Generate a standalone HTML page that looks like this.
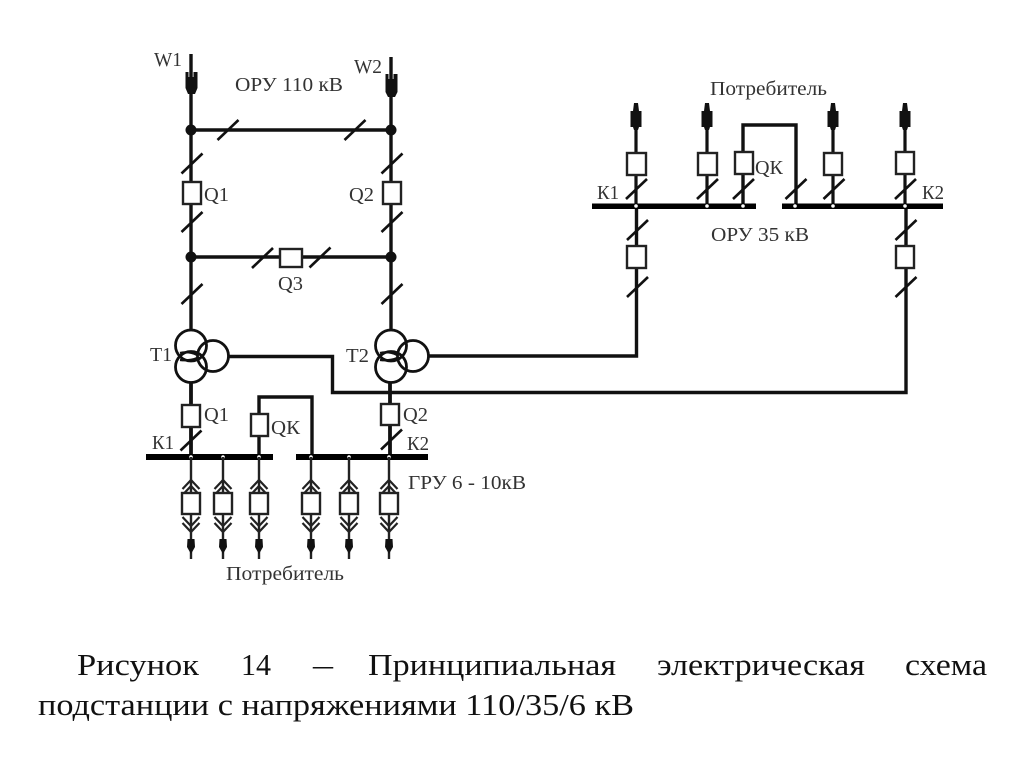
<!DOCTYPE html>
<html lang="ru">
<head>
<meta charset="utf-8">
<title>Рисунок 14</title>
<style>
html,body{margin:0;padding:0;background:#fff;width:1024px;height:767px;overflow:hidden}
svg{display:block;filter:blur(0.35px)}
text{font-family:"Liberation Serif","Noto Serif CJK SC",serif;fill:#222}
.l{font-size:20px;fill:#333}
.c{font-size:31px;fill:#111}
</style>
</head>
<body>
<svg width="1024" height="767" viewBox="0 0 1024 767" xmlns="http://www.w3.org/2000/svg">
<defs>
<g id="t"><path d="M-10.500 10 L10.500 -10" fill="none" stroke="#111" stroke-width="2.600"/></g>
<g id="fd">
<path d="M0 0V102" stroke="#222" stroke-width="2.400" fill="none"/>
<path d="M-8.500 32L0 23L8.500 32M-8.500 38L0 29L8.500 38M-8.500 60L0 69L8.500 60M-8.500 66L0 75L8.500 66" stroke="#222" stroke-width="2.200" fill="none"/>
<path d="M-3.500 82H3.500L4 90L0 97L-4 90Z" fill="#111"/>
<rect x="-9" y="36" width="18" height="21" fill="#fff" stroke="#222" stroke-width="2.400"/>
</g>
<g id="up">
<path d="M0 0V-100" stroke="#111" stroke-width="3.200" fill="none"/>
<path d="M-2 -103H2L3 -95H5.500V-79H3L2 -76H-2L-3 -79H-5.500V-95H-3Z" fill="#111"/>
</g>
</defs>

<g fill="none" stroke="#111" stroke-width="3.400">
<path d="M191 54V330M391 57V330M191 130H391M191 257H391"/>
<path d="M191 383V405M191 427V457M390 383V404M390 425V457" stroke-width="3.800"/>
<path d="M229 356.500H332.500V392.500H906V206M429 356H636.500V206"/>
<path d="M259 457V397H312V457"/>
<path d="M743 206V125H796V206"/>
</g>

<!-- W arrows -->
<path d="M185.500 72H188.500V77H193.500V72H197.500V88L195 94H188L185.500 88Z" fill="#111"/>
<path d="M385.500 74H388.500V79H393.500V74H397.500V92L395 97H388L385.500 92Z" fill="#111"/>

<!-- nodes -->
<g fill="#111">
<circle cx="191" cy="130" r="5.500"/><circle cx="391" cy="130" r="5.500"/>
<circle cx="191" cy="257" r="5.500"/><circle cx="391" cy="257" r="5.500"/>
</g>

<!-- ticks -->
<use href="#t" x="228" y="130"/><use href="#t" x="355" y="130"/>
<use href="#t" x="192" y="163.500"/><use href="#t" x="392" y="163.500"/>
<use href="#t" x="192" y="222"/><use href="#t" x="392" y="222"/>
<use href="#t" x="192" y="294"/><use href="#t" x="392" y="294"/>
<use href="#t" x="262.500" y="258"/><use href="#t" x="320" y="257.500"/>
<use href="#t" x="191" y="440.500"/><use href="#t" x="391.500" y="439.500"/>
<use href="#t" x="636.500" y="189"/><use href="#t" x="707.500" y="189"/>
<use href="#t" x="743.500" y="189"/><use href="#t" x="796" y="189"/>
<use href="#t" x="834" y="189"/><use href="#t" x="905.500" y="189"/>
<use href="#t" x="637.500" y="230"/><use href="#t" x="906" y="230"/>
<use href="#t" x="637.500" y="287"/><use href="#t" x="906" y="287"/>

<!-- upper right feeders -->
<use href="#up" x="707" y="206"/><use href="#up" x="833" y="206"/>
<use href="#up" x="636" y="206"/><use href="#up" x="905" y="206"/>

<!-- boxes -->
<g fill="#fff" stroke="#222" stroke-width="2.400">
<rect x="183" y="182" width="18" height="22"/>
<rect x="383" y="182" width="18" height="22"/>
<rect x="280" y="249" width="22" height="18"/>
<rect x="182" y="405" width="18" height="22"/>
<rect x="251" y="414" width="17" height="22"/>
<rect x="381" y="404" width="18" height="21"/>
<rect x="627" y="153" width="19" height="22"/>
<rect x="698" y="153" width="19" height="22"/>
<rect x="735" y="152" width="18" height="22"/>
<rect x="824" y="153" width="18" height="22"/>
<rect x="896" y="152" width="18" height="22"/>
<rect x="627" y="246" width="19" height="22"/>
<rect x="896" y="246" width="18" height="22"/>
</g>

<!-- transformers -->
<g fill="none" stroke="#111" stroke-width="2.800">
<circle cx="191" cy="345.500" r="15.500"/><circle cx="191" cy="367" r="15.500"/><circle cx="213" cy="356" r="15.500"/>
<circle cx="391" cy="345.500" r="15.500"/><circle cx="391" cy="367" r="15.500"/><circle cx="413" cy="356" r="15.500"/>
<path d="M180 353Q189 351 197 355M180 360Q190 361 197 358" stroke-width="2.200"/>
<path d="M380 353Q389 351 397 355M380 360Q390 361 397 358" stroke-width="2.200"/>
</g>

<!-- buses -->
<g fill="#000">
<rect x="146" y="454" width="127" height="6"/>
<rect x="296" y="454" width="132" height="6"/>
<rect x="592" y="203.500" width="164" height="5.500"/>
<rect x="782" y="203.500" width="161" height="5.500"/>
</g>
<g fill="#fff">
<circle cx="191" cy="457" r="1.800"/><circle cx="223" cy="457" r="1.800"/><circle cx="259" cy="457" r="1.800"/>
<circle cx="311" cy="457" r="1.800"/><circle cx="349" cy="457" r="1.800"/><circle cx="389" cy="457" r="1.800"/>
<circle cx="636" cy="206" r="1.800"/><circle cx="707" cy="206" r="1.800"/><circle cx="743" cy="206" r="1.800"/>
<circle cx="795" cy="206" r="1.800"/><circle cx="833" cy="206" r="1.800"/><circle cx="905" cy="206" r="1.800"/>
</g>

<!-- lower feeders -->
<use href="#fd" x="191" y="457"/><use href="#fd" x="223" y="457"/><use href="#fd" x="259" y="457"/>
<use href="#fd" x="311" y="457"/><use href="#fd" x="349" y="457"/><use href="#fd" x="389" y="457"/>

<!-- labels -->
<text class="l" x="154" y="66" textLength="28" lengthAdjust="spacingAndGlyphs">W1</text>
<text class="l" x="354" y="73" textLength="28" lengthAdjust="spacingAndGlyphs">W2</text>
<text class="l" x="235" y="91" textLength="108" lengthAdjust="spacingAndGlyphs">ОРУ 110 кВ</text>
<text class="l" x="204" y="201" textLength="25" lengthAdjust="spacingAndGlyphs">Q1</text>
<text class="l" x="349" y="201" textLength="25" lengthAdjust="spacingAndGlyphs">Q2</text>
<text class="l" x="278" y="290" textLength="25" lengthAdjust="spacingAndGlyphs">Q3</text>
<text class="l" x="150" y="361" textLength="22" lengthAdjust="spacingAndGlyphs">Т1</text>
<text class="l" x="346" y="362" textLength="23" lengthAdjust="spacingAndGlyphs">Т2</text>
<text class="l" x="204" y="421" textLength="25" lengthAdjust="spacingAndGlyphs">Q1</text>
<text class="l" x="403" y="421" textLength="25" lengthAdjust="spacingAndGlyphs">Q2</text>
<text class="l" x="271" y="434" textLength="29" lengthAdjust="spacingAndGlyphs">QК</text>
<text class="l" x="152" y="449" textLength="22" lengthAdjust="spacingAndGlyphs">К1</text>
<text class="l" x="407" y="450" textLength="22" lengthAdjust="spacingAndGlyphs">К2</text>
<text class="l" x="408" y="489" textLength="118" lengthAdjust="spacingAndGlyphs">ГРУ 6 - 10кВ</text>
<text class="l" x="226" y="580" textLength="118" lengthAdjust="spacingAndGlyphs">Потребитель</text>
<text class="l" x="710" y="95" textLength="117" lengthAdjust="spacingAndGlyphs">Потребитель</text>
<text class="l" x="755" y="174" textLength="28" lengthAdjust="spacingAndGlyphs">QК</text>
<text class="l" x="597" y="199" textLength="22" lengthAdjust="spacingAndGlyphs">К1</text>
<text class="l" x="922" y="199" textLength="22" lengthAdjust="spacingAndGlyphs">К2</text>
<text class="l" x="711" y="241" textLength="98" lengthAdjust="spacingAndGlyphs">ОРУ 35 кВ</text>

<!-- caption -->
<text class="c" x="77" y="675" textLength="122" lengthAdjust="spacingAndGlyphs">Рисунок</text>
<text class="c" x="241" y="675" textLength="30" lengthAdjust="spacingAndGlyphs">14</text>
<text class="c" x="313" y="675" textLength="20" lengthAdjust="spacingAndGlyphs">–</text>
<text class="c" x="368" y="675" textLength="248" lengthAdjust="spacingAndGlyphs">Принципиальная</text>
<text class="c" x="657" y="675" textLength="208" lengthAdjust="spacingAndGlyphs">электрическая</text>
<text class="c" x="905" y="675" textLength="82" lengthAdjust="spacingAndGlyphs">схема</text>
<text class="c" x="38" y="715" textLength="596" lengthAdjust="spacingAndGlyphs">подстанции с напряжениями 110/35/6 кВ</text>
</svg>
</body>
</html>
